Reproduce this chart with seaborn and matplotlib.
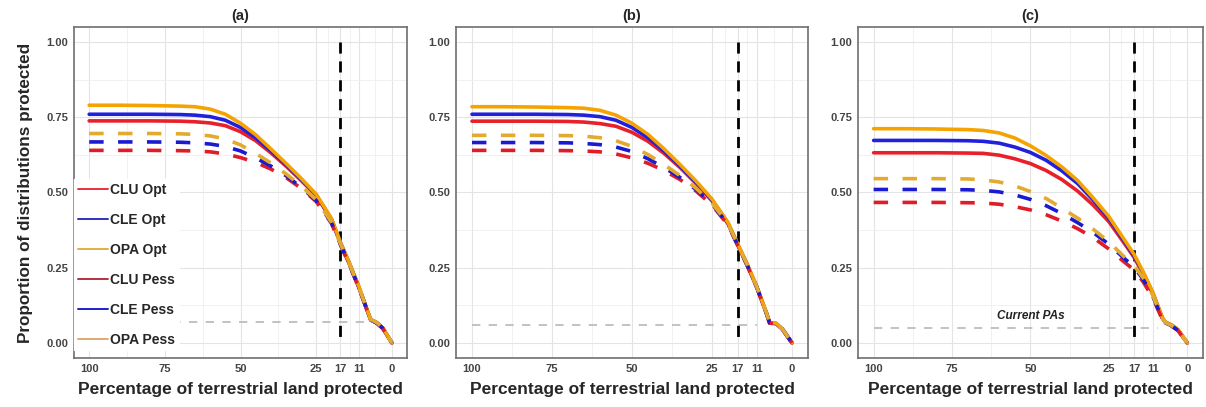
import numpy as np
import pandas as pd
import matplotlib
matplotlib.use("Agg")
import matplotlib.pyplot as plt
import seaborn as sns

# percentage of land protected (x axis, shown reversed)
pct = [100, 90, 80, 70, 65, 60, 55, 50, 45, 40, 35, 30, 25, 20, 17, 14, 11, 8, 7, 5, 3, 0]

# panel (a)
a_clu_opt = [0.738, 0.738, 0.738, 0.737, 0.735, 0.731, 0.722, 0.702, 0.672, 0.632, 0.588, 0.540, 0.490, 0.410, 0.331, 0.261, 0.186, 0.103, 0.076, 0.066, 0.048, 0.000]
a_cle_opt = [0.760, 0.760, 0.760, 0.759, 0.757, 0.752, 0.740, 0.716, 0.682, 0.639, 0.593, 0.544, 0.492, 0.412, 0.333, 0.263, 0.188, 0.104, 0.077, 0.067, 0.049, 0.000]
a_opa_opt = [0.790, 0.790, 0.789, 0.787, 0.785, 0.777, 0.760, 0.730, 0.692, 0.645, 0.597, 0.547, 0.494, 0.414, 0.335, 0.265, 0.190, 0.105, 0.078, 0.068, 0.050, 0.000]
a_clu_pess = [0.640, 0.640, 0.640, 0.639, 0.638, 0.635, 0.628, 0.616, 0.600, 0.578, 0.550, 0.514, 0.470, 0.398, 0.326, 0.258, 0.185, 0.103, 0.076, 0.066, 0.048, 0.000]
a_cle_pess = [0.668, 0.668, 0.668, 0.667, 0.665, 0.661, 0.653, 0.638, 0.615, 0.588, 0.556, 0.518, 0.473, 0.400, 0.328, 0.260, 0.186, 0.104, 0.077, 0.067, 0.049, 0.000]
a_opa_pess = [0.696, 0.696, 0.696, 0.695, 0.693, 0.688, 0.678, 0.658, 0.630, 0.598, 0.562, 0.522, 0.476, 0.402, 0.330, 0.262, 0.188, 0.105, 0.078, 0.068, 0.050, 0.000]

# panel (b)
b_clu_opt = [0.737, 0.737, 0.737, 0.736, 0.734, 0.729, 0.720, 0.700, 0.670, 0.630, 0.583, 0.530, 0.472, 0.396, 0.326, 0.258, 0.184, 0.098, 0.066, 0.064, 0.045, 0.000]
b_cle_opt = [0.760, 0.760, 0.760, 0.759, 0.757, 0.752, 0.740, 0.716, 0.682, 0.638, 0.588, 0.534, 0.475, 0.398, 0.328, 0.260, 0.186, 0.099, 0.067, 0.065, 0.046, 0.000]
b_opa_opt = [0.785, 0.785, 0.784, 0.782, 0.780, 0.773, 0.757, 0.730, 0.693, 0.645, 0.593, 0.538, 0.478, 0.400, 0.330, 0.262, 0.188, 0.100, 0.068, 0.066, 0.046, 0.000]
b_clu_pess = [0.640, 0.640, 0.640, 0.639, 0.638, 0.635, 0.628, 0.615, 0.597, 0.573, 0.543, 0.505, 0.458, 0.392, 0.324, 0.257, 0.184, 0.098, 0.066, 0.064, 0.045, 0.000]
b_cle_pess = [0.666, 0.666, 0.666, 0.665, 0.663, 0.659, 0.651, 0.636, 0.612, 0.583, 0.550, 0.510, 0.462, 0.394, 0.326, 0.258, 0.185, 0.099, 0.067, 0.065, 0.046, 0.000]
b_opa_pess = [0.690, 0.690, 0.690, 0.689, 0.687, 0.682, 0.672, 0.653, 0.626, 0.593, 0.556, 0.514, 0.465, 0.396, 0.328, 0.260, 0.186, 0.100, 0.068, 0.066, 0.046, 0.000]

# panel (c)
c_clu_opt = [0.632, 0.632, 0.632, 0.631, 0.630, 0.624, 0.612, 0.596, 0.573, 0.543, 0.505, 0.458, 0.403, 0.330, 0.285, 0.228, 0.164, 0.083, 0.068, 0.058, 0.043, 0.000]
c_cle_opt = [0.673, 0.673, 0.673, 0.672, 0.670, 0.664, 0.651, 0.633, 0.607, 0.572, 0.530, 0.475, 0.414, 0.337, 0.290, 0.232, 0.166, 0.084, 0.069, 0.059, 0.044, 0.000]
c_opa_opt = [0.712, 0.712, 0.711, 0.709, 0.706, 0.698, 0.681, 0.655, 0.623, 0.585, 0.540, 0.482, 0.420, 0.342, 0.295, 0.235, 0.168, 0.085, 0.070, 0.060, 0.045, 0.000]
c_clu_pess = [0.467, 0.467, 0.467, 0.466, 0.465, 0.461, 0.453, 0.442, 0.426, 0.405, 0.380, 0.350, 0.312, 0.268, 0.243, 0.202, 0.150, 0.078, 0.066, 0.056, 0.041, 0.000]
c_cle_pess = [0.510, 0.510, 0.510, 0.509, 0.507, 0.502, 0.492, 0.477, 0.456, 0.430, 0.400, 0.367, 0.328, 0.280, 0.253, 0.210, 0.155, 0.080, 0.067, 0.057, 0.042, 0.000]
c_opa_pess = [0.546, 0.546, 0.546, 0.545, 0.542, 0.535, 0.522, 0.503, 0.480, 0.448, 0.415, 0.378, 0.336, 0.285, 0.258, 0.215, 0.158, 0.082, 0.068, 0.058, 0.043, 0.000]

# current protected areas level and where the guide line stops
current_pa = [0.07, 0.06, 0.05]
current_pa_end = [8, 10.8, 9.5]

panel_titles = ["(a)", "(b)", "(c)"]
series_names = ["CLU Opt", "CLE Opt", "OPA Opt", "CLU Pess", "CLE Pess", "OPA Pess"]
x_ticks = [100, 75, 50, 25, 17, 11, 0]
y_ticks = [0.00, 0.25, 0.50, 0.75, 1.00]

panels = [
    [a_clu_opt, a_cle_opt, a_opa_opt, a_clu_pess, a_cle_pess, a_opa_pess],
    [b_clu_opt, b_cle_opt, b_opa_opt, b_clu_pess, b_cle_pess, b_opa_pess],
    [c_clu_opt, c_cle_opt, c_opa_opt, c_clu_pess, c_cle_pess, c_opa_pess],
]

line_colors = ["#e8202a", "#2020dd", "#f5a300", "#e01c28", "#1a1ad0", "#e3aa30"]
legend_colors = ["#e8303c", "#3030c0", "#e0b040", "#b83040", "#2020d0", "#e0a870"]

sns.set_theme(style="white")
plt.rcParams["font.family"] = ["Liberation Sans", "DejaVu Sans"]

fig = plt.figure(figsize=(12.06, 4.07), dpi=100)
boxes = [
    [0.0614, 0.1204, 0.2761, 0.8133],
    [0.3781, 0.1204, 0.2919, 0.8133],
    [0.7114, 0.1204, 0.2861, 0.8133],
]

for i, box in enumerate(boxes):
    ax = fig.add_axes(box)
    ax.set_xlim(105, -5)
    ax.set_ylim(-0.05, 1.05)

    # grid (major + minor) like ggplot theme_bw
    minor_x = [87.5, 62.5, 37.5, 21, 14, 5.5]
    minor_y = [0.125, 0.375, 0.625, 0.875]
    ax.set_xticks(x_ticks)
    ax.set_xticks(minor_x, minor=True)
    ax.set_yticks(y_ticks)
    ax.set_yticks(minor_y, minor=True)
    ax.grid(True, which="major", color="#e4e4e4", linewidth=0.8)
    ax.grid(True, which="minor", color="#efefef", linewidth=0.6)
    ax.set_axisbelow(True)

    ax.set_xticklabels([str(t) for t in x_ticks])
    ax.set_yticklabels(["%.2f" % t for t in y_ticks])
    ax.tick_params(axis="both", which="major", length=2, width=0.7,
                   color="#555555", pad=2, labelsize=8, labelcolor="#444444")
    ax.tick_params(axis="both", which="minor", length=0)
    for lab in ax.get_xticklabels() + ax.get_yticklabels():
        lab.set_fontweight("bold")

    for sp in ax.spines.values():
        sp.set_color("#6e6e6e")
        sp.set_linewidth(1.2)

    # current PAs level
    ax.plot([100, current_pa_end[i]], [current_pa[i], current_pa[i]],
            color="#b8b8b8", linewidth=1.2, linestyle=(0, (5, 5)), zorder=2)
    # 17% target
    ax.plot([17, 17], [1.0, 0], color="black", linewidth=2.0,
            linestyle=(0, (4, 2.8)), zorder=2.5)

    vals = panels[i]
    for k in range(6):
        ls = "-" if k < 3 else (0, (4, 4))
        sns.lineplot(x=pct, y=vals[k], ax=ax, color=line_colors[k], sort=False,
                     linewidth=2.6, linestyle=ls, legend=False, zorder=3 + k * 0.1)

    if i == 2:
        ax.text(50, 0.088, "Current PAs", ha="center", va="center",
                fontsize=8.5, fontweight="bold", fontstyle="italic", color="#222222")

    ax.set_title(panel_titles[i], fontsize=10.5, fontweight="bold", pad=5)
    ax.set_xlabel("Percentage of terrestrial land protected", fontsize=12.5,
                  fontweight="bold", labelpad=6)
    if i == 0:
        ax.set_ylabel("Proportion of distributions protected", fontsize=12.3,
                      fontweight="bold")
        ax.yaxis.set_label_coords(-0.122, 0.5)
        handles = [plt.Line2D([], [], color=legend_colors[k], linewidth=1.4)
                   for k in range(6)]
        leg = ax.legend(handles, series_names, loc="upper left",
                        bbox_to_anchor=(0.0, 0.54), borderaxespad=0,
                        borderpad=0.25, frameon=True, fancybox=False,
                        framealpha=1.0, edgecolor="white", facecolor="white",
                        handlelength=2.2, handletextpad=0.15, labelspacing=1.15,
                        prop={"weight": "bold", "size": 10})
        leg.set_zorder(10)
    else:
        ax.set_ylabel("")

fig.savefig("out.png", dpi=100)
